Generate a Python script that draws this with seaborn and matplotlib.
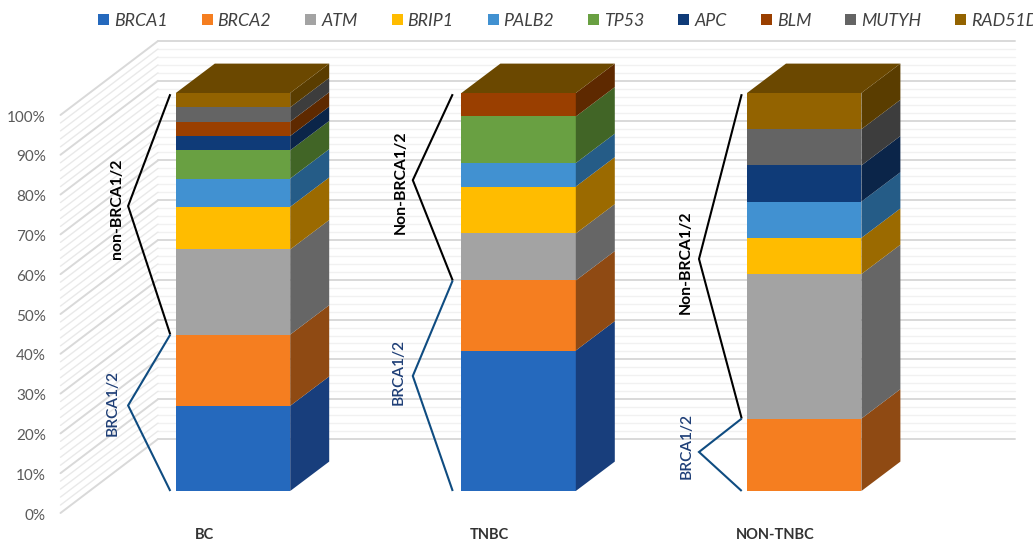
import numpy as np
import pandas as pd
import matplotlib
matplotlib.use("Agg")
import matplotlib.pyplot as plt
from matplotlib.patches import Patch
import seaborn as sns

# Cohorts and the share of carriers (%) for each gene
groups = ["BC", "TNBC", "NON-TNBC"]
genes = ["BRCA1", "BRCA2", "ATM", "BRIP1", "PALB2", "TP53", "APC", "BLM", "MUTYH", "RAD51D"]
BRCA1 = [21.4, 35.3, 0.0]
BRCA2 = [17.9, 17.6, 18.2]
ATM = [21.4, 11.8, 36.3]
BRIP1 = [10.7, 11.8, 9.1]
PALB2 = [7.1, 5.9, 9.1]
TP53 = [7.1, 11.7, 0.0]
APC = [3.6, 0.0, 9.1]
BLM = [3.6, 5.9, 0.0]
MUTYH = [3.6, 0.0, 9.1]
RAD51D = [3.6, 0.0, 9.1]
series = [BRCA1, BRCA2, ATM, BRIP1, PALB2, TP53, APC, BLM, MUTYH, RAD51D]

front_colors = ["#2569BD", "#F57E20", "#A3A3A3", "#FFBC00", "#4191D1",
                "#69A042", "#0F3B78", "#9A3F00", "#646464", "#936300"]
side_colors = ["#183E7C", "#8F4A13", "#666666", "#9B6A00", "#255C87",
               "#416526", "#0B2549", "#5E2900", "#3D3D3D", "#5A3D00"]
top_color = "#6B4800"

# Bracket annotations per cohort: vertex and label heights (%)
outer_labels = ["non-BRCA1/2", "Non-BRCA1/2", "Non-BRCA1/2"]
outer_vertex = [71.6, 78.1, 58.3]
inner_vertex = [21.5, 28.9, 9.8]
outer_label_y = [70.9, 77.5, 57.6]
inner_label_y = [22.1, 29.8, 11.2]
inner_label = "BRCA1/2"

# Layout of the pseudo-3D frame, in figure pixels
W, H = 1033, 542
px_y0, px_y100 = 491.0, 93.0
px_cat0, px_step = 233.0, 285.6
ax_left, ax_bottom = 50.0, 520.0
py = (px_y0 - px_y100) / 100.0      # pixels per percent
depth_x = 39.0 / px_step
depth_y = 29.4 / py
wall_y = (px_y0 - 439.0) / py
edge_y = -(513.0 - px_y0) / py
wall_left = (158.0 - px_cat0) / px_step
edge_left = (60.5 - px_cat0) / px_step
wall_right = (1015.0 - px_cat0) / px_step
bar_w = 114.4 / px_step

# Horizontal offsets of the bracket parts from each column's left edge, in pixels
bracket_tip = [47.7, 48.6, 48.0]
bracket_end = [5.5, 8.7, 5.3]
outer_label_dx = [59.0, 60.7, 61.3]
inner_label_dx = [63.0, 62.4, 60.3]

sns.set_theme(style="white")
plt.rcParams["font.family"] = ["Lato", "DejaVu Sans"]

fig = plt.figure(figsize=(W / 100, H / 100), dpi=100)
ax = fig.add_axes([ax_left / W, (H - ax_bottom) / H, (W - ax_left) / W, ax_bottom / H])

# Back and side walls: major lines every 10 %, minor every 2 %
for p in range(0, 101, 2):
    major = p % 10 == 0
    back = "#D9D9D9" if major else "#F1F1F1"
    side = "#D9D9D9" if major else "#E9E9E9"
    lw = 1.4 if major else 1.0
    ax.plot([wall_left, wall_right], [p + wall_y, p + wall_y], color=back, lw=lw, zorder=0.6 if major else 0.5)
    ax.plot([edge_left, wall_left], [p + edge_y, p + wall_y], color=side, lw=lw, zorder=0.6 if major else 0.5)

# Stacked front faces: tallest cumulative total first, each shorter one on top
values = np.array(series)
cumulative = values.cumsum(axis=0)
for i in range(len(genes) - 1, -1, -1):
    frame = pd.DataFrame({"group": groups, "total": cumulative[i]})
    sns.barplot(data=frame, x="group", y="total", order=groups, color=front_colors[i],
                saturation=1, width=bar_w, errorbar=None, linewidth=0, zorder=3, ax=ax)

# Side and top faces of each column
for c in range(len(groups)):
    x_l, x_r = c - bar_w / 2, c + bar_w / 2
    base = 0.0
    for i in range(len(genes)):
        top = cumulative[i, c]
        if values[i, c] > 0:
            ax.fill([x_r, x_r + depth_x, x_r + depth_x, x_r],
                    [base, base + depth_y, top + depth_y, top],
                    color=side_colors[i], lw=0, zorder=3)
        base = top
    ax.fill([x_l, x_l + depth_x, x_r + depth_x, x_r],
            [top, top + depth_y, top + depth_y, top], color=top_color, lw=0, zorder=3)

# Brackets separating BRCA1/2 from the remaining genes
for c in range(len(groups)):
    x_l = c - bar_w / 2
    split = BRCA1[c] + BRCA2[c]
    tip = x_l - bracket_tip[c] / px_step
    end = x_l - bracket_end[c] / px_step
    ax.plot([end, tip, end], [99.7, outer_vertex[c], split], color="black", lw=1.5,
            solid_joinstyle="miter", solid_capstyle="butt", zorder=4)
    ax.plot([end, tip, end], [split, inner_vertex[c], 0], color="#0F4C81", lw=1.5,
            solid_joinstyle="miter", solid_capstyle="butt", zorder=4)
    ax.text(x_l - outer_label_dx[c] / px_step, outer_label_y[c], outer_labels[c], rotation=90,
            ha="center", va="center", fontsize=11.3, fontweight="bold", color="black", zorder=5)
    ax.text(x_l - inner_label_dx[c] / px_step, inner_label_y[c], inner_label, rotation=90,
            ha="center", va="center", fontsize=11.2, fontweight="semibold", color="#1F3F77", zorder=5)

ax.set_xlim((ax_left - px_cat0) / px_step, (W - px_cat0) / px_step)
ax.set_ylim((px_y0 - ax_bottom) / py, px_y0 / py)

# Axis text
tick_pct = np.arange(0, 101, 10)
ax.set_yticks(tick_pct + edge_y - 0.3)
ax.set_yticklabels([f"{p}%" for p in tick_pct], fontsize=11, color="#595959")
ax.set_xticks(np.arange(len(groups)) - 29.0 / px_step)
ax.set_xticklabels(groups, fontsize=10.5, fontweight="bold", color="#333333")
ax.tick_params(axis="y", length=0, pad=3)
ax.tick_params(axis="x", length=0, pad=5.5)
ax.set_xlabel("")
ax.set_ylabel("")
ax.grid(False)
for spine in ax.spines.values():
    spine.set_visible(False)
ax.patch.set_alpha(0)

# Legend row across the top
fs = 12.8
fpx = fs * 100 / 72
handles = [Patch(facecolor=col, edgecolor="none", label=g) for col, g in zip(front_colors, genes)]
leg = fig.legend(handles=handles, ncol=len(genes), frameon=False, loc="center left",
                 bbox_to_anchor=(98 / W, 1 - 21 / H), borderpad=0, borderaxespad=0,
                 handlelength=11 / fpx, handleheight=11 / fpx, handletextpad=5 / fpx,
                 columnspacing=34 / fpx, prop={"family": "Lato", "style": "italic", "size": fs})
for text in leg.get_texts():
    text.set_color("#404040")

fig.savefig("out.png", dpi=100, facecolor="white")
